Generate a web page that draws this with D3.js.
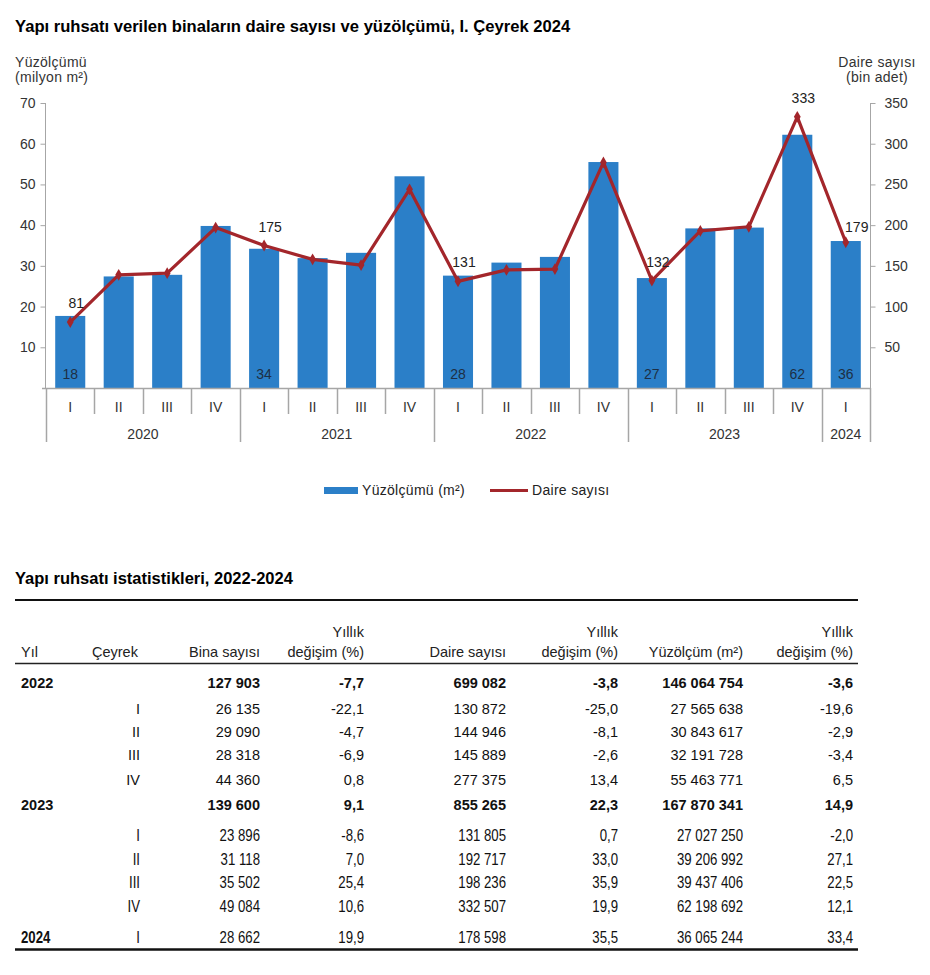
<!DOCTYPE html>
<html>
<head>
<meta charset="utf-8">
<script src="https://cdn.jsdelivr.net/npm/d3@7"></script>
<style>
  html, body { margin: 0; padding: 0; background: #fff; }
  svg { display: block; font-family: "Liberation Sans", Arial, sans-serif; }
</style>
</head>
<body>
<svg id="chart" width="930" height="975"></svg>
<script>
// ---------- DATA ----------
const chartTitle = "Yapı ruhsatı verilen binaların daire sayısı ve yüzölçümü, I. Çeyrek 2024";
const years = ["2020", "2021", "2022", "2023", "2024"];
const categoryYears = ["2020","2020","2020","2020","2021","2021","2021","2021","2022","2022","2022","2022","2023","2023","2023","2023","2024"];
const categoryQuarters = ["I","II","III","IV","I","II","III","IV","I","II","III","IV","I","II","III","IV","I"];
const areaValues = [17.7, 27.4, 27.8, 39.8, 34.2, 31.9, 33.2, 52.0, 27.6, 30.8, 32.2, 55.5, 27.0, 39.2, 39.4, 62.2, 36.1];
const dwellingValues = [81, 139, 141, 197, 175, 158, 151, 244, 131, 145, 146, 277, 132, 193, 198, 333, 179];
const labeledIndices = [0, 4, 8, 12, 15, 16];
const leftTicks = [10, 20, 30, 40, 50, 60, 70];
const rightTicks = [50, 100, 150, 200, 250, 300, 350];
const seriesNames = ["Yüzölçümü (m²)", "Daire sayısı"];

const tableTitle = "Yapı ruhsatı istatistikleri, 2022-2024";
const tableHeaderTop = ["", "", "", "Yıllık", "", "Yıllık", "", "Yıllık"];
const tableHeaderBottom = ["Yıl", "Çeyrek", "Bina sayısı", "değişim (%)", "Daire sayısı", "değişim (%)", "Yüzölçüm (m²)", "değişim (%)"];
const tableYears    = ["2022","","","","","2023","","","","","2024"];
const tableQuarters = ["","I","II","III","IV","","I","II","III","IV","I"];
const tableBuildings = ["127 903","26 135","29 090","28 318","44 360","139 600","23 896","31 118","35 502","49 084","28 662"];
const tableBuildChg  = ["-7,7","-22,1","-4,7","-6,9","0,8","9,1","-8,6","7,0","25,4","10,6","19,9"];
const tableDwellings = ["699 082","130 872","144 946","145 889","277 375","855 265","131 805","192 717","198 236","332 507","178 598"];
const tableDwellChg  = ["-3,8","-25,0","-8,1","-2,6","13,4","22,3","0,7","33,0","35,9","19,9","35,5"];
const tableArea      = ["146 064 754","27 565 638","30 843 617","32 191 728","55 463 771","167 870 341","27 027 250","39 206 992","39 437 406","62 198 692","36 065 244"];
const tableAreaChg   = ["-3,6","-19,6","-2,9","-3,4","6,5","14,9","-2,0","27,1","22,5","12,1","33,4"];
const tableBoldRows  = [true,false,false,false,false,true,false,false,false,false,false];
const tableNarrowRows = [false,false,false,false,false,false,true,true,true,true,true];

// ---------- STYLE ----------
const barColor = "#2b7fc8";
const lineColor = "#a3262b";
const axisColor = "#a6a6a6";
const chartFont = 14;
const chartSpacing = 0.3;

const svg = d3.select("#chart");

// Title
svg.append("text").attr("x", 15).attr("y", 32)
  .attr("font-size", 16.6).attr("font-weight", "bold").attr("fill", "#000")
  .text(chartTitle);

// Scales
const plotLeft = 46, plotRight = 870, plotTop = 103, plotBottom = 388;
const idx = d3.range(areaValues.length);
const x = d3.scaleBand().domain(idx).range([plotLeft, plotRight]).paddingInner(0.38).paddingOuter(0.19);
const xStep = d3.scaleBand().domain(idx).range([plotLeft, plotRight]);
const yL = d3.scaleLinear().domain([0, 70]).range([plotBottom, plotTop]);
const yR = d3.scaleLinear().domain([0, 350]).range([plotBottom, plotTop]);

// Axis titles
const at = svg.append("g").attr("font-size", chartFont).attr("letter-spacing", chartSpacing).attr("fill", "#333");
at.append("text").attr("x", 15).attr("y", 67).text("Yüzölçümü");
at.append("text").attr("x", 15).attr("y", 82).text("(milyon m²)");
at.append("text").attr("x", 877).attr("y", 67).attr("text-anchor", "middle").text("Daire sayısı");
at.append("text").attr("x", 877).attr("y", 82).attr("text-anchor", "middle").text("(bin adet)");

// Left axis
const gL = svg.append("g").attr("transform", `translate(${plotLeft - 0.5},0)`)
  .call(d3.axisLeft(yL).tickValues(leftTicks).tickSize(5).tickSizeOuter(0).tickPadding(5));
gL.select(".domain").attr("stroke", axisColor).attr("d", `M0,${plotTop}V${plotBottom}`);
gL.selectAll(".tick line").attr("stroke", axisColor);
gL.selectAll(".tick text").attr("font-size", chartFont).attr("fill", "#333").attr("font-family", "Liberation Sans, Arial, sans-serif");

// Right axis
const gR = svg.append("g").attr("transform", `translate(${plotRight + 0.5},0)`)
  .call(d3.axisRight(yR).tickValues(rightTicks).tickSize(5).tickSizeOuter(0).tickPadding(9));
gR.select(".domain").attr("stroke", axisColor).attr("d", `M0,${plotTop}V${plotBottom}`);
gR.selectAll(".tick line").attr("stroke", axisColor);
gR.selectAll(".tick text").attr("font-size", chartFont).attr("fill", "#333").attr("font-family", "Liberation Sans, Arial, sans-serif");

// Bars
svg.append("g").selectAll("rect").data(idx).join("rect")
  .attr("x", i => x(i)).attr("width", x.bandwidth())
  .attr("y", i => yL(areaValues[i])).attr("height", i => yL(0) - yL(areaValues[i]))
  .attr("fill", barColor);

// Bar labels
svg.append("g").selectAll("text").data(labeledIndices).join("text")
  .attr("x", i => x(i) + x.bandwidth() / 2).attr("y", plotBottom - 9)
  .attr("text-anchor", "middle").attr("font-size", chartFont).attr("fill", "#1d2f45")
  .text(i => Math.round(areaValues[i]));

// X axis baseline
svg.append("line").attr("x1", 42).attr("x2", plotRight + 1).attr("y1", plotBottom + 0.5).attr("y2", plotBottom + 0.5)
  .attr("stroke", axisColor).attr("stroke-width", 1.5);

// Category separators
const sepG = svg.append("g").attr("stroke", axisColor).attr("stroke-width", 1.5);
d3.range(areaValues.length + 1).forEach(k => {
  const xp = k < areaValues.length ? xStep(k) : xStep(k - 1) + xStep.bandwidth();
  const yearBoundary = k === 0 || k === areaValues.length || categoryYears[k] !== categoryYears[k - 1];
  sepG.append("line").attr("x1", Math.round(xp) + 0.5).attr("x2", Math.round(xp) + 0.5)
    .attr("y1", plotBottom).attr("y2", yearBoundary ? 442 : 414);
});

// Quarter labels
svg.append("g").selectAll("text").data(idx).join("text")
  .attr("x", i => xStep(i) + xStep.bandwidth() / 2).attr("y", 412)
  .attr("text-anchor", "middle").attr("font-size", chartFont).attr("fill", "#333")
  .text(i => categoryQuarters[i]);

// Year labels
svg.append("g").selectAll("text").data(years).join("text")
  .attr("x", yr => {
    const ids = idx.filter(i => categoryYears[i] === yr);
    return (xStep(ids[0]) + xStep(ids[ids.length - 1]) + xStep.bandwidth()) / 2;
  })
  .attr("y", 439).attr("text-anchor", "middle").attr("font-size", chartFont).attr("fill", "#333")
  .text(d => d);

// Line
const cx = i => xStep(i) + xStep.bandwidth() / 2;
const line = d3.line().x(i => cx(i)).y(i => yR(dwellingValues[i]));
svg.append("path").datum(idx).attr("d", line)
  .attr("fill", "none").attr("stroke", lineColor).attr("stroke-width", 3.2).attr("stroke-linejoin", "round");
svg.append("g").selectAll("path").data(idx).join("path")
  .attr("transform", i => `translate(${cx(i)},${yR(dwellingValues[i])})`)
  .attr("d", d3.symbol().type(d3.symbolDiamond).size(40))
  .attr("fill", lineColor);

// Line labels
svg.append("g").selectAll("text").data(labeledIndices).join("text")
  .attr("x", i => cx(i) + (i === idx.length - 1 ? 11 : 6))
  .attr("y", i => yR(dwellingValues[i]) - (i === idx.length - 1 ? 10 : 14))
  .attr("text-anchor", "middle").attr("font-size", chartFont).attr("fill", "#222")
  .text(i => dwellingValues[i]);

// Legend
const lg = svg.append("g").attr("font-size", chartFont).attr("letter-spacing", chartSpacing).attr("fill", "#222");
lg.append("rect").attr("x", 324).attr("y", 487).attr("width", 34).attr("height", 7).attr("fill", barColor);
lg.append("text").attr("x", 362).attr("y", 495).text(seriesNames[0]);
lg.append("line").attr("x1", 490).attr("x2", 528).attr("y1", 490.5).attr("y2", 490.5).attr("stroke", lineColor).attr("stroke-width", 3);
lg.append("text").attr("x", 532).attr("y", 495).text(seriesNames[1]);

// ---------- TABLE ----------
svg.append("text").attr("x", 15).attr("y", 584).attr("font-size", 16.5).attr("font-weight", "bold").attr("fill", "#000")
  .text(tableTitle);
svg.append("line").attr("x1", 15).attr("x2", 858).attr("y1", 600).attr("y2", 600).attr("stroke", "#111").attr("stroke-width", 2);

const tableFont = 14.5;
const colX = [21, 140, 260, 364, 506, 618, 743, 853];
const colAnchor = ["start", "end", "end", "end", "end", "end", "end", "end"];
const headG = svg.append("g").attr("font-size", tableFont).attr("fill", "#222");
tableHeaderTop.forEach((t, c) => {
  if (t) headG.append("text").attr("x", colX[c]).attr("y", 637).attr("text-anchor", colAnchor[c]).text(t);
});
tableHeaderBottom.forEach((t, c) => {
  headG.append("text").attr("x", c === 1 ? 92 : colX[c]).attr("y", 657)
    .attr("text-anchor", c === 1 ? "start" : colAnchor[c]).text(t);
});
svg.append("line").attr("x1", 15).attr("x2", 858).attr("y1", 663.5).attr("y2", 663.5).attr("stroke", "#222").attr("stroke-width", 1.5);

const rowY = [688, 714, 737, 760, 785, 810, 841, 865, 888, 912, 943];
const tableCols = [tableYears, tableQuarters, tableBuildings, tableBuildChg, tableDwellings, tableDwellChg, tableArea, tableAreaChg];
const bodyG = svg.append("g").attr("fill", "#111");
rowY.forEach((yy, r) => {
  tableCols.forEach((col, c) => {
    const v = col[r];
    if (!v) return;
    const narrow = tableNarrowRows[r];
    const t = bodyG.append("text")
      .attr("text-anchor", colAnchor[c])
      .attr("font-size", narrow ? 16.5 : tableFont)
      .attr("font-weight", (c === 0 || (tableBoldRows[r] && c !== 1)) ? "bold" : "normal")
      .text(v);
    if (narrow) {
      t.attr("transform", `translate(${colX[c]},${yy}) scale(0.8,1)`);
    } else {
      t.attr("x", colX[c]).attr("y", yy);
    }
  });
});
svg.append("line").attr("x1", 15).attr("x2", 858).attr("y1", 949.5).attr("y2", 949.5).attr("stroke", "#111").attr("stroke-width", 2.5);
</script>
</body>
</html>
